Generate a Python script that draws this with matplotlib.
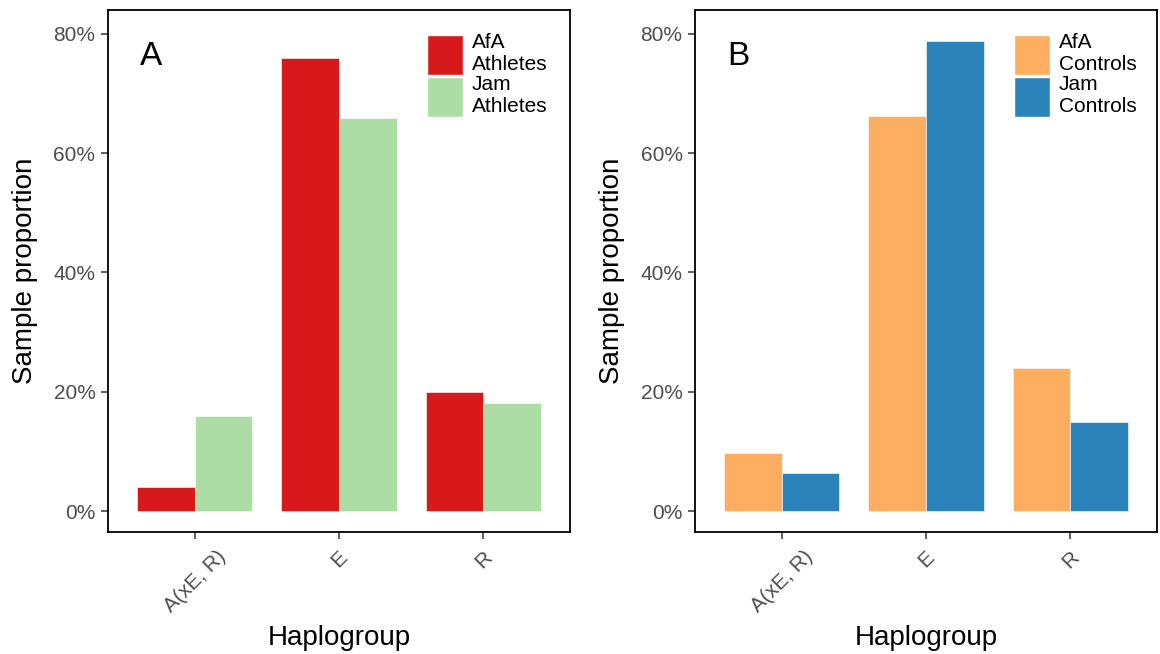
import matplotlib
matplotlib.use("Agg")
import matplotlib.pyplot as plt
from matplotlib.ticker import PercentFormatter
from matplotlib.patches import Patch
import numpy as np

plt.rcParams['font.family'] = ['Liberation Sans', 'DejaVu Sans']

haplogroups = ["A(xE, R)", "E", "R"]

afa_athletes = [4.0, 76.0, 20.0]
jam_athletes = [16.0, 65.9, 18.1]
afa_controls = [9.7, 66.2, 24.0]
jam_controls = [6.4, 78.8, 14.9]

panels = [
    ("A", afa_athletes, jam_athletes, "AfA\nAthletes", "Jam\nAthletes", "#D7191C", "#ABDDA4"),
    ("B", afa_controls, jam_controls, "AfA\nControls", "Jam\nControls", "#FDAE61", "#2B83BA"),
]

fig = plt.figure(figsize=(11.6, 6.54), dpi=100)
lefts = [108 / 1160, 695 / 1160]
w = 462 / 1160
bottom = 1 - 532 / 654
h = 522 / 654

x = np.arange(len(haplogroups))
bw = 0.4

for left, (tag, s1, s2, lab1, lab2, c1, c2) in zip(lefts, panels):
    ax = fig.add_axes([left, bottom, w, h])
    ax.bar(x - bw / 2, s1, width=bw, color=c1, edgecolor='white', linewidth=0.4)
    ax.bar(x + bw / 2, s2, width=bw, color=c2, edgecolor='white', linewidth=0.4)
    ax.set_xlim(-0.6, 2.6)
    ax.set_ylim(-3.5, 84.0)
    ax.set_yticks([0, 20, 40, 60, 80])
    ax.yaxis.set_major_formatter(PercentFormatter(decimals=0))
    ax.set_xticks(x)
    ax.set_xticklabels(haplogroups, rotation=45, ha='center', va='top')
    ax.tick_params(axis='both', colors='#333333', labelcolor='#4D4D4D',
                   labelsize=15, length=5, width=1.1, direction='out')
    ax.tick_params(axis='x', pad=6)
    ax.tick_params(axis='y', pad=4)
    for sp in ax.spines.values():
        sp.set_linewidth(1.3)
        sp.set_color('black')
    ax.set_xlabel("Haplogroup", fontsize=20, labelpad=6)
    ax.set_ylabel("Sample proportion", fontsize=20, labelpad=11)
    ax.text(0.093, 0.91, tag, transform=ax.transAxes, fontsize=24,
            ha='center', va='center')
    handles = [Patch(facecolor=c1, edgecolor='white', label=lab1),
               Patch(facecolor=c2, edgecolor='white', label=lab2)]
    leg = ax.legend(handles=handles, loc='upper left', bbox_to_anchor=(0.69, 0.955),
                    frameon=False, fontsize=15, handlelength=1.75, handleheight=2.58,
                    handletextpad=0.4, labelspacing=0.0, borderpad=0,
                    borderaxespad=0)
    for t in leg.get_texts():
        t.set_linespacing(1.2)

fig.savefig("out.png", dpi=100)
